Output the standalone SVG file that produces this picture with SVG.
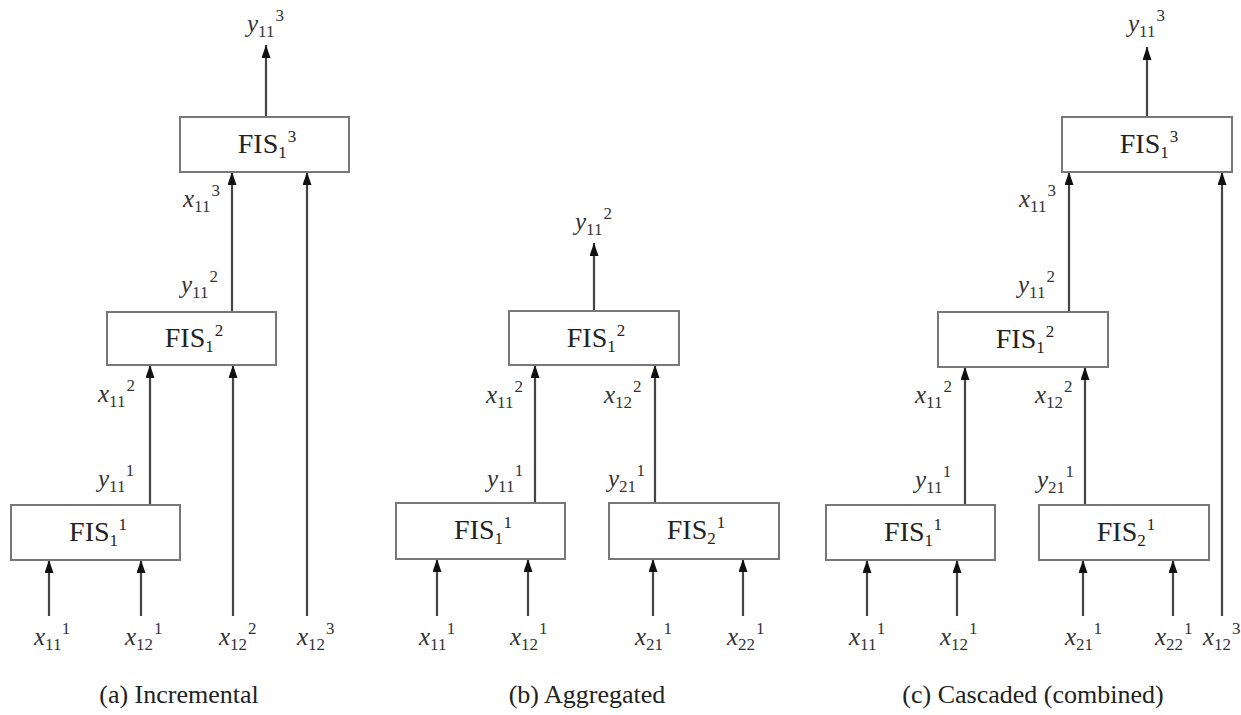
<svg xmlns="http://www.w3.org/2000/svg" width="1241" height="715" viewBox="0 0 1241 715">
<style>
text{font-family:'Liberation Serif','Times New Roman',Times,serif}
.box{fill:#fff;stroke:#777;stroke-width:2}
.fis{font-size:28px;fill:#222;text-anchor:middle}
.v{font-size:25px;fill:#333}
.i{font-style:italic}
.s{font-size:17px}
.cap{font-size:26px;fill:#222;text-anchor:middle}
.c path{stroke:#444;stroke-width:2.2;fill:none;marker-end:url(#ah)}
</style>
<defs>
<marker id="ah" markerUnits="userSpaceOnUse" viewBox="0 0 13 9" refX="13" refY="4.5" markerWidth="13" markerHeight="9" orient="auto">
<path d="M0,0 L13,4.5 L0,9 z" fill="#111"/>
</marker>
</defs>
<rect width="1241" height="715" fill="#fff"/>

<g id="connectors" class="c">
<path d="M266,117 V45"/>
<path d="M232,312 V172"/>
<path d="M307,616 V172"/>
<path d="M150,505 V365"/>
<path d="M233,616 V365"/>
<path d="M49,616 V560"/>
<path d="M141,616 V560"/>

<path d="M594,311 V243"/>
<path d="M535,503 V365"/>
<path d="M655,503 V365"/>
<path d="M437,616 V559"/>
<path d="M528,616 V559"/>
<path d="M653,616 V559"/>
<path d="M743,616 V559"/>

<path d="M1147,117 V47"/>
<path d="M1069,312 V172"/>
<path d="M1222,616 V172"/>
<path d="M965,505 V367"/>
<path d="M1085,505 V367"/>
<path d="M867,616 V560"/>
<path d="M957,616 V560"/>
<path d="M1083,616 V560"/>
<path d="M1173,616 V560"/>
</g>

<g id="a-fis13"><rect class="box" x="180" y="117" width="169" height="55"/><text class="fis" x="267" y="153">FIS<tspan class="s" dy="5">1</tspan><tspan class="s" dx="1" dy="-16">3</tspan></text></g>
<g id="a-fis12"><rect class="box" x="107" y="312" width="169" height="53"/><text class="fis" x="194" y="347">FIS<tspan class="s" dy="5">1</tspan><tspan class="s" dx="1" dy="-16">2</tspan></text></g>
<g id="a-fis11"><rect class="box" x="11" y="505" width="169" height="55"/><text class="fis" x="98" y="541">FIS<tspan class="s" dy="5">1</tspan><tspan class="s" dx="1" dy="-16">1</tspan></text></g>

<g id="b-fis12"><rect class="box" x="509" y="311" width="170" height="54"/><text class="fis" x="596" y="347">FIS<tspan class="s" dy="5">1</tspan><tspan class="s" dx="1" dy="-16">2</tspan></text></g>
<g id="b-fis11"><rect class="box" x="396" y="503" width="169" height="56"/><text class="fis" x="483" y="539">FIS<tspan class="s" dy="5">1</tspan><tspan class="s" dx="1" dy="-16">1</tspan></text></g>
<g id="b-fis21"><rect class="box" x="609" y="503" width="170" height="56"/><text class="fis" x="696" y="539">FIS<tspan class="s" dy="5">2</tspan><tspan class="s" dx="1" dy="-16">1</tspan></text></g>

<g id="c-fis13"><rect class="box" x="1062" y="117" width="170" height="55"/><text class="fis" x="1149" y="153">FIS<tspan class="s" dy="5">1</tspan><tspan class="s" dx="1" dy="-16">3</tspan></text></g>
<g id="c-fis12"><rect class="box" x="938" y="312" width="170" height="55"/><text class="fis" x="1025" y="348">FIS<tspan class="s" dy="5">1</tspan><tspan class="s" dx="1" dy="-16">2</tspan></text></g>
<g id="c-fis11"><rect class="box" x="826" y="505" width="169" height="55"/><text class="fis" x="913" y="541">FIS<tspan class="s" dy="5">1</tspan><tspan class="s" dx="1" dy="-16">1</tspan></text></g>
<g id="c-fis21"><rect class="box" x="1039" y="505" width="170" height="55"/><text class="fis" x="1126" y="541">FIS<tspan class="s" dy="5">2</tspan><tspan class="s" dx="1" dy="-16">1</tspan></text></g>

<g id="labels">
<text class="v" x="247" y="32"><tspan class="i">y</tspan><tspan class="s" dy="5">11</tspan><tspan class="s" dx="1" dy="-16">3</tspan></text>
<text class="v" x="183" y="207"><tspan class="i">x</tspan><tspan class="s" dy="5">11</tspan><tspan class="s" dx="1" dy="-16">3</tspan></text>
<text class="v" x="181" y="293"><tspan class="i">y</tspan><tspan class="s" dy="5">11</tspan><tspan class="s" dx="1" dy="-16">2</tspan></text>
<text class="v" x="98" y="402"><tspan class="i">x</tspan><tspan class="s" dy="5">11</tspan><tspan class="s" dx="1" dy="-16">2</tspan></text>
<text class="v" x="98" y="487"><tspan class="i">y</tspan><tspan class="s" dy="5">11</tspan><tspan class="s" dx="1" dy="-16">1</tspan></text>
<text class="v" x="34" y="645"><tspan class="i">x</tspan><tspan class="s" dy="5">11</tspan><tspan class="s" dx="1" dy="-16">1</tspan></text>
<text class="v" x="125" y="645"><tspan class="i">x</tspan><tspan class="s" dy="5">12</tspan><tspan class="s" dx="1" dy="-16">1</tspan></text>
<text class="v" x="219" y="645"><tspan class="i">x</tspan><tspan class="s" dy="5">12</tspan><tspan class="s" dx="1" dy="-16">2</tspan></text>
<text class="v" x="297" y="645"><tspan class="i">x</tspan><tspan class="s" dy="5">12</tspan><tspan class="s" dx="1" dy="-16">3</tspan></text>

<text class="v" x="575" y="230"><tspan class="i">y</tspan><tspan class="s" dy="5">11</tspan><tspan class="s" dx="1" dy="-16">2</tspan></text>
<text class="v" x="486" y="403"><tspan class="i">x</tspan><tspan class="s" dy="5">11</tspan><tspan class="s" dx="1" dy="-16">2</tspan></text>
<text class="v" x="604" y="403"><tspan class="i">x</tspan><tspan class="s" dy="5">12</tspan><tspan class="s" dx="1" dy="-16">2</tspan></text>
<text class="v" x="487" y="487"><tspan class="i">y</tspan><tspan class="s" dy="5">11</tspan><tspan class="s" dx="1" dy="-16">1</tspan></text>
<text class="v" x="608" y="487"><tspan class="i">y</tspan><tspan class="s" dy="5">21</tspan><tspan class="s" dx="1" dy="-16">1</tspan></text>
<text class="v" x="419" y="645"><tspan class="i">x</tspan><tspan class="s" dy="5">11</tspan><tspan class="s" dx="1" dy="-16">1</tspan></text>
<text class="v" x="510" y="645"><tspan class="i">x</tspan><tspan class="s" dy="5">12</tspan><tspan class="s" dx="1" dy="-16">1</tspan></text>
<text class="v" x="635" y="645"><tspan class="i">x</tspan><tspan class="s" dy="5">21</tspan><tspan class="s" dx="1" dy="-16">1</tspan></text>
<text class="v" x="727" y="645"><tspan class="i">x</tspan><tspan class="s" dy="5">22</tspan><tspan class="s" dx="1" dy="-16">1</tspan></text>

<text class="v" x="1128" y="32"><tspan class="i">y</tspan><tspan class="s" dy="5">11</tspan><tspan class="s" dx="1" dy="-16">3</tspan></text>
<text class="v" x="1019" y="207"><tspan class="i">x</tspan><tspan class="s" dy="5">11</tspan><tspan class="s" dx="1" dy="-16">3</tspan></text>
<text class="v" x="1018" y="293"><tspan class="i">y</tspan><tspan class="s" dy="5">11</tspan><tspan class="s" dx="1" dy="-16">2</tspan></text>
<text class="v" x="915" y="403"><tspan class="i">x</tspan><tspan class="s" dy="5">11</tspan><tspan class="s" dx="1" dy="-16">2</tspan></text>
<text class="v" x="1035" y="403"><tspan class="i">x</tspan><tspan class="s" dy="5">12</tspan><tspan class="s" dx="1" dy="-16">2</tspan></text>
<text class="v" x="915" y="488"><tspan class="i">y</tspan><tspan class="s" dy="5">11</tspan><tspan class="s" dx="1" dy="-16">1</tspan></text>
<text class="v" x="1037" y="488"><tspan class="i">y</tspan><tspan class="s" dy="5">21</tspan><tspan class="s" dx="1" dy="-16">1</tspan></text>
<text class="v" x="849" y="645"><tspan class="i">x</tspan><tspan class="s" dy="5">11</tspan><tspan class="s" dx="1" dy="-16">1</tspan></text>
<text class="v" x="940" y="645"><tspan class="i">x</tspan><tspan class="s" dy="5">12</tspan><tspan class="s" dx="1" dy="-16">1</tspan></text>
<text class="v" x="1065" y="645"><tspan class="i">x</tspan><tspan class="s" dy="5">21</tspan><tspan class="s" dx="1" dy="-16">1</tspan></text>
<text class="v" x="1155" y="645"><tspan class="i">x</tspan><tspan class="s" dy="5">22</tspan><tspan class="s" dx="1" dy="-16">1</tspan></text>
<text class="v" x="1203" y="645"><tspan class="i">x</tspan><tspan class="s" dy="5">12</tspan><tspan class="s" dx="1" dy="-16">3</tspan></text>

<text class="cap" x="179" y="703">(a) Incremental</text>
<text class="cap" x="587" y="703">(b) Aggregated</text>
<text class="cap" x="1033" y="703">(c) Cascaded (combined)</text>
</g>
</svg>
